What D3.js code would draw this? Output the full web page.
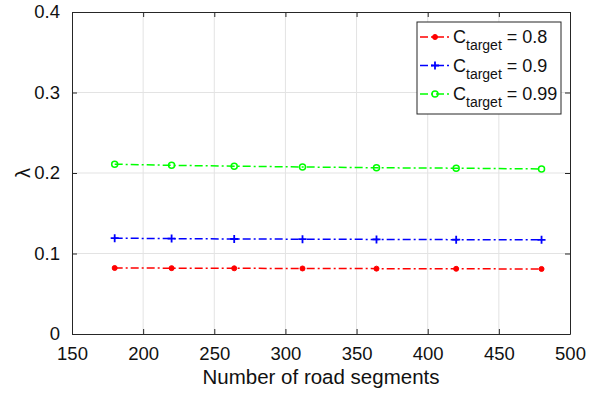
<!DOCTYPE html>
<html>
<head>
<meta charset="utf-8">
<script src="https://cdn.jsdelivr.net/npm/d3@7"></script>
<style>
  body { margin: 0; background: #fff; }
  svg text { font-family: "Liberation Sans", Arial, sans-serif; }
</style>
</head>
<body>
<div id="chart"></div>
<script>
// data
const segments = [180, 220, 264, 312, 364, 420, 480];
const lambda08 = [0.082, 0.0818, 0.0816, 0.0814, 0.0812, 0.081, 0.0808];
const lambda09 = [0.119, 0.1185, 0.118, 0.1178, 0.1175, 0.1172, 0.117];
const lambda099 = [0.211, 0.2095, 0.2085, 0.2075, 0.2065, 0.206, 0.205];
const legendValues = ['0.8', '0.9', '0.99'];
const xTicks = [150, 200, 250, 300, 350, 400, 450, 500];
const yTicks = [0, 0.1, 0.2, 0.3, 0.4];

const width = 601, height = 397;
const margin = { top: 12, right: 31, bottom: 63, left: 72 };
const w = width - margin.left - margin.right;
const h = height - margin.top - margin.bottom;

const svg = d3.select('#chart').append('svg')
  .attr('width', width).attr('height', height);

const g = svg.append('g')
  .attr('transform', `translate(${margin.left},${margin.top})`);

const x = d3.scaleLinear().domain([150, 500]).range([0, w]);
const y = d3.scaleLinear().domain([0, 0.4]).range([h, 0]);

// grid
g.append('g').selectAll('line').data(xTicks.slice(1, -1)).enter().append('line')
  .attr('x1', d => x(d)).attr('x2', d => x(d)).attr('y1', 0).attr('y2', h)
  .style('stroke', '#e3e3e3').style('stroke-width', 1);
g.append('g').selectAll('line').data(yTicks.slice(1, -1)).enter().append('line')
  .attr('y1', d => y(d)).attr('y2', d => y(d)).attr('x1', 0).attr('x2', w)
  .style('stroke', '#e3e3e3').style('stroke-width', 1);

// axes
const xAxis = g.append('g').attr('transform', `translate(0,${h})`)
  .call(d3.axisBottom(x).tickValues(xTicks).tickSizeInner(-5).tickSizeOuter(0).tickPadding(13));
const yAxis = g.append('g')
  .call(d3.axisLeft(y).tickValues(yTicks).tickFormat(d => d === 0 ? '0' : d3.format('.1f')(d)).tickSizeInner(-5).tickSizeOuter(0).tickPadding(12));
const xTop = g.append('g')
  .call(d3.axisTop(x).tickValues(xTicks).tickSizeInner(-5).tickSizeOuter(0).tickFormat(''));
const yRight = g.append('g').attr('transform', `translate(${w},0)`)
  .call(d3.axisRight(y).tickValues(yTicks).tickSizeInner(-5).tickSizeOuter(0).tickFormat(''));

[xAxis, yAxis, xTop, yRight].forEach(a => {
  a.selectAll('path').style('stroke', '#262626').style('stroke-width', 1);
  a.selectAll('line').style('stroke', '#262626');
  a.selectAll('text').style('font-size', '18.5px').style('fill', '#111');
});

// axis labels
svg.append('text')
  .attr('x', margin.left + w / 2).attr('y', 384)
  .attr('text-anchor', 'middle').style('font-size', '20.5px').style('fill', '#111')
  .text('Number of road segments');
svg.append('text')
  .attr('transform', `translate(30,${margin.top + y(0.2)}) rotate(-90)`)
  .attr('text-anchor', 'middle').style('font-size', '20px').style('fill', '#111')
  .text('λ');

// series
const series = [
  { values: lambda08, color: '#ff0000', marker: 'dot' },
  { values: lambda09, color: '#0000ff', marker: 'plus' },
  { values: lambda099, color: '#00ff00', marker: 'circle' }
];

const line = d3.line().x(d => x(d[0])).y(d => y(d[1]));

function drawMarker(sel, type, color) {
  if (type === 'dot') {
    sel.append('circle').attr('r', 2.5).style('fill', color).style('stroke', color);
  } else if (type === 'plus') {
    sel.append('path').attr('d', 'M-4,0H4M0,-4V4').style('stroke', color).style('stroke-width', 1.8);
  } else {
    sel.append('circle').attr('r', 3).style('fill', 'none').style('stroke', color).style('stroke-width', 1.5);
  }
}

series.forEach(s => {
  const pts = segments.map((d, i) => [d, s.values[i]]);
  g.append('path').datum(pts).attr('d', line)
    .style('fill', 'none').style('stroke', s.color).style('stroke-width', 1.5)
    .style('stroke-dasharray', '8,3,2,3');
  g.selectAll(null).data(pts).enter().append('g')
    .attr('transform', d => `translate(${x(d[0])},${y(d[1])})`)
    .each(function () { drawMarker(d3.select(this), s.marker, s.color); });
});

// legend
const legend = svg.append('g').attr('transform', 'translate(417,22)');
legend.append('rect').attr('width', 144).attr('height', 92)
  .style('fill', '#fff').style('stroke', '#262626').style('stroke-width', 1);

series.forEach((s, i) => {
  const ly = 15 + i * 28.5;
  const row = legend.append('g').attr('transform', `translate(0,${ly})`);
  row.append('line').attr('x1', 3).attr('x2', 33).attr('y1', 0).attr('y2', 0)
    .style('stroke', s.color).style('stroke-width', 1.5).style('stroke-dasharray', '8,3,2,3');
  const m = row.append('g').attr('transform', 'translate(18,0)');
  drawMarker(m, s.marker, s.color);
  const t = row.append('text').attr('x', 36).attr('y', 6).style('font-size', '18px').style('fill', '#111');
  t.append('tspan').text('C');
  t.append('tspan').attr('dy', 7).style('font-size', '14px').text('target');
  t.append('tspan').attr('dy', -7).text(' = ' + legendValues[i]);
});
</script>
</body>
</html>
